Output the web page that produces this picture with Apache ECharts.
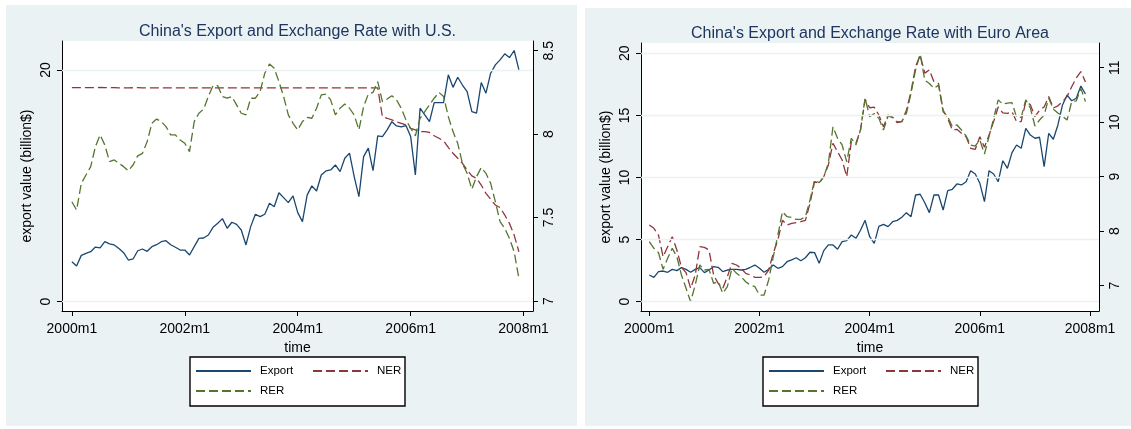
<!DOCTYPE html>
<html>
<head>
<meta charset="utf-8">
<script src="https://cdn.jsdelivr.net/npm/echarts@6/dist/echarts.min.js"></script>
<style>
  html, body { margin: 0; padding: 0; background: #ffffff; }
  #chart { width: 1131px; height: 429px; }
</style>
</head>
<body>
<div id="chart"></div>
<script>
// Monthly observations, 2000m1 .. 2007m12
const months = [];
for (let y = 2000; y < 2008; y++) for (let m = 1; m <= 12; m++) months.push(y + 'm' + m);

const xTickMonths = [0, 24, 48, 72, 96];
const xTickLabels = ['2000m1', '2002m1', '2004m1', '2006m1', '2008m1'];

// China – U.S.
const usExport = [
  3.45, 3.08, 4.00, 4.18, 4.32, 4.72, 4.64, 5.18, 5.00, 4.90, 4.60, 4.23,
  3.60, 3.69, 4.40, 4.55, 4.35, 4.75, 4.92, 5.18, 5.27, 4.92, 4.70, 4.46,
  4.46, 4.03, 4.75, 5.47, 5.50, 5.76, 6.42, 6.77, 7.17, 6.34, 6.86, 6.68,
  6.19, 4.90, 6.48, 7.55, 7.34, 7.55, 8.50, 8.20, 9.41, 8.98, 8.55, 9.13,
  7.69, 6.91, 9.20, 10.00, 9.56, 10.94, 11.29, 11.37, 11.80, 11.23, 12.38, 12.82,
  10.80, 9.07, 12.52, 13.25, 11.31, 14.31, 14.25, 14.83, 15.54, 15.17, 15.09, 15.20,
  14.25, 10.94, 16.70, 16.12, 15.54, 17.18, 17.18, 17.18, 19.58, 18.50, 19.37, 18.70,
  18.13, 16.40, 16.27, 18.91, 18.00, 19.72, 20.44, 20.87, 21.39, 21.07, 21.68, 20.00
];
const usNER = [
  8.279, 8.279, 8.279, 8.279, 8.278, 8.278, 8.280, 8.279, 8.278, 8.278, 8.277, 8.277,
  8.277, 8.278, 8.278, 8.277, 8.277, 8.277, 8.277, 8.277, 8.277, 8.277, 8.277, 8.277,
  8.277, 8.277, 8.277, 8.277, 8.277, 8.277, 8.277, 8.277, 8.277, 8.277, 8.277, 8.277,
  8.277, 8.277, 8.277, 8.277, 8.277, 8.277, 8.277, 8.277, 8.277, 8.277, 8.277, 8.277,
  8.277, 8.277, 8.277, 8.277, 8.277, 8.277, 8.277, 8.277, 8.277, 8.277, 8.277, 8.277,
  8.277, 8.277, 8.277, 8.277, 8.277, 8.277, 8.104, 8.095, 8.085, 8.074, 8.065, 8.055,
  8.035, 8.025, 8.015, 8.015, 8.010, 7.990, 7.975, 7.960, 7.920, 7.885, 7.855, 7.825,
  7.785, 7.750, 7.735, 7.695, 7.645, 7.610, 7.575, 7.560, 7.515, 7.465, 7.395, 7.295
];
const usRER = [
  7.595, 7.545, 7.705, 7.755, 7.805, 7.925, 7.995, 7.935, 7.835, 7.845, 7.825, 7.805,
  7.780, 7.815, 7.870, 7.885, 7.955, 8.065, 8.090, 8.075, 8.045, 7.995, 7.995, 7.965,
  7.945, 7.895, 8.075, 8.125, 8.150, 8.225, 8.290, 8.290, 8.225, 8.215, 8.225, 8.175,
  8.125, 8.115, 8.215, 8.215, 8.255, 8.365, 8.420, 8.395, 8.315, 8.225, 8.115, 8.065,
  8.025, 8.075, 8.100, 8.095, 8.155, 8.235, 8.240, 8.205, 8.115, 8.155, 8.180, 8.155,
  8.115, 8.025, 8.165, 8.240, 8.250, 8.315, 8.195, 8.210, 8.230, 8.205, 8.155, 8.085,
  8.035, 7.990, 8.095, 8.135, 8.175, 8.215, 8.250, 8.225, 8.105, 8.015, 7.945, 7.825,
  7.765, 7.670, 7.745, 7.800, 7.765, 7.705, 7.595, 7.475, 7.435, 7.375, 7.295, 7.135
];

// China – Euro Area
const euExport = [
  2.15, 1.96, 2.42, 2.47, 2.37, 2.60, 2.50, 2.74, 2.60, 2.37, 2.60, 2.74,
  2.34, 2.55, 2.82, 2.77, 2.42, 2.55, 2.60, 2.60, 2.55, 2.60, 2.77, 2.95,
  2.69, 2.37, 2.60, 2.95, 2.69, 2.82, 3.22, 3.36, 3.54, 3.30, 3.54, 3.98,
  3.95, 3.09, 4.11, 4.57, 4.57, 4.22, 4.83, 4.91, 5.37, 5.10, 5.75, 6.55,
  5.23, 4.70, 6.07, 6.23, 6.04, 6.44, 6.55, 6.80, 7.17, 6.84, 8.59, 8.65,
  7.97, 7.17, 8.59, 8.59, 7.38, 8.94, 9.05, 9.48, 9.40, 9.66, 10.55, 10.28,
  9.53, 8.05, 10.55, 10.28, 9.66, 11.35, 10.74, 12.00, 12.62, 12.35, 13.96, 13.42,
  13.16, 13.24, 10.87, 13.56, 13.08, 14.23, 15.84, 16.64, 16.18, 16.38, 17.37, 16.72
];
const euNER = [
  8.114, 8.053, 7.930, 7.532, 7.716, 7.900, 7.655, 7.338, 7.240, 6.952, 7.196, 7.716,
  7.704, 7.655, 7.196, 7.044, 6.952, 7.165, 7.411, 7.380, 7.319, 7.227, 7.196, 7.153,
  7.153, 7.165, 7.288, 7.594, 7.838, 8.200, 8.114, 8.145, 8.156, 8.175, 8.200, 8.510,
  8.908, 8.879, 9.000, 9.215, 9.613, 9.459, 9.306, 9.000, 9.642, 9.613, 9.857, 10.420,
  10.265, 10.275, 10.132, 9.917, 10.130, 10.090, 9.990, 10.010, 10.220, 10.560, 11.020, 11.230,
  10.900, 10.960, 10.740, 10.710, 10.220, 10.070, 9.857, 9.870, 9.796, 9.734, 9.521, 9.503,
  9.734, 9.539, 9.765, 10.010, 10.280, 10.170, 10.160, 10.190, 10.010, 10.010, 10.380, 10.320,
  10.100, 10.220, 10.280, 10.470, 10.260, 10.300, 10.380, 10.470, 10.650, 10.810, 10.930, 10.740
];
const euRER = [
  7.807, 7.686, 7.606, 7.300, 7.503, 7.686, 7.532, 7.196, 6.952, 6.706, 7.013, 7.380,
  7.288, 7.300, 7.044, 7.073, 6.861, 6.982, 7.319, 7.227, 7.165, 7.073, 7.013, 6.982,
  6.829, 6.829, 7.105, 7.532, 7.930, 8.358, 8.266, 8.254, 8.218, 8.218, 8.266, 8.573,
  8.940, 8.890, 9.000, 9.246, 9.917, 9.704, 9.582, 9.275, 9.704, 9.582, 9.857, 10.440,
  10.100, 10.160, 10.070, 9.857, 10.110, 10.090, 10.010, 10.010, 10.160, 10.530, 10.960, 11.250,
  10.770, 10.710, 10.620, 10.680, 10.190, 10.100, 9.917, 9.949, 9.857, 9.747, 9.582, 9.563,
  9.673, 9.417, 9.734, 10.070, 10.410, 10.330, 10.350, 10.360, 10.090, 10.090, 10.410, 10.260,
  9.930, 10.040, 10.130, 10.440, 10.240, 10.170, 10.110, 10.040, 10.380, 10.390, 10.620, 10.380
];

const usLeftTicks = [0, 20];
const usRightTicks = [7, 7.5, 8, 8.5];
const euLeftTicks = [0, 5, 10, 15, 20];
const euRightTicks = [7, 8, 9, 10, 11];

const FONT = '"Liberation Sans", Arial, Helvetica, sans-serif';
const C_EXPORT = '#1a476f';
const C_NER = '#90353b';
const C_RER = '#55752f';
const PANEL_BG = '#eaf2f3';
const DASH = [9, 4];

const chart = echarts.init(document.getElementById('chart'), null, { renderer: 'canvas' });

const pairs = arr => arr.map((v, i) => [i, v]);

function xAxisFor(gridIndex, min, max) {
  return {
    type: 'value', gridIndex, min, max,
    axisLine: { show: true, onZero: false, lineStyle: { color: '#000', width: 1 } },
    axisTick: { show: true, customValues: xTickMonths, length: 5, lineStyle: { color: '#000', width: 1 } },
    axisLabel: {
      customValues: xTickMonths,
      formatter: v => xTickLabels[xTickMonths.indexOf(v)],
      fontSize: 14, color: '#000', fontFamily: FONT, margin: 11
    },
    splitLine: { show: false },
    name: 'time', nameLocation: 'middle', nameGap: 30,
    nameTextStyle: { fontSize: 14, color: '#000', fontFamily: FONT }
  };
}

function yAxisFor(gridIndex, position, min, max, ticks, name) {
  const ax = {
    type: 'value', gridIndex, position, min, max,
    axisLine: { show: true, onZero: false, lineStyle: { color: '#000', width: 1 } },
    axisTick: { show: true, customValues: ticks, length: 5, lineStyle: { color: '#000', width: 1 } },
    axisLabel: {
      customValues: ticks, rotate: 90,
      fontSize: 14, color: '#000', fontFamily: FONT, margin: 9
    },
    splitLine: { show: false }
  };
  if (name) {
    ax.name = name;
    ax.nameLocation = 'middle';
    ax.nameGap = 28;
    ax.nameTextStyle = { fontSize: 14, color: '#000', fontFamily: FONT };
  }
  return ax;
}

function gridLines(xi, yi, ticks) {
  return {
    name: 'gridlines', type: 'line', xAxisIndex: xi, yAxisIndex: yi, data: [], z: 1,
    silent: true,
    markLine: {
      silent: true, symbol: 'none', animation: false,
      label: { show: false },
      lineStyle: { color: PANEL_BG, width: 1.3, type: 'solid' },
      data: ticks.map(v => ({ yAxis: v }))
    }
  };
}

function lineSeries(name, data, xi, yi, color, dashed) {
  return {
    name, type: 'line', xAxisIndex: xi, yAxisIndex: yi,
    data: pairs(data), symbol: 'none', z: 3,
    lineStyle: { color, width: 1.3, type: dashed ? DASH : 'solid' },
    itemStyle: { color }
  };
}

// legend keys show the line sample only, no marker
function legendItem(name, left, top) {
  return {
    data: [name], left, top, padding: 0,
    itemWidth: 55, itemHeight: 14, selectedMode: false,
    itemStyle: { opacity: 0 },
    textStyle: { fontSize: 11.5, color: '#000', fontFamily: FONT, padding: [0, 0, 0, 4] }
  };
}

const option = {
  animation: false,
  backgroundColor: '#ffffff',
  title: [
    { text: "China's Export and Exchange Rate with U.S.", left: 297.5, top: 24, textAlign: 'center', padding: 0,
      textStyle: { fontSize: 16, fontWeight: 'normal', color: '#1e3560', fontFamily: FONT } },
    { text: "China's Export and Exchange Rate with Euro Area", left: 870, top: 26, textAlign: 'center', padding: 0,
      textStyle: { fontSize: 16, fontWeight: 'normal', color: '#1e3560', fontFamily: FONT } }
  ],
  graphic: [
    { type: 'rect', z: -10, shape: { x: 6, y: 5, width: 571, height: 421 }, style: { fill: PANEL_BG } },
    { type: 'rect', z: -10, shape: { x: 585, y: 8, width: 546, height: 418 }, style: { fill: PANEL_BG } },
    { type: 'rect', z: 0, shape: { x: 190, y: 357, width: 215, height: 49 }, style: { fill: '#fff', stroke: '#000', lineWidth: 1.4 } },
    { type: 'rect', z: 0, shape: { x: 763, y: 357, width: 215, height: 49 }, style: { fill: '#fff', stroke: '#000', lineWidth: 1.4 } }
  ],
  legend: [
    legendItem('Export', 195, 365),
    legendItem('NER', 312, 365),
    legendItem('RER', 195, 385),
    legendItem('Export', 768, 365),
    legendItem('NER', 885, 365),
    legendItem('RER', 768, 385)
  ],
  grid: [
    { left: 62, top: 41, width: 471, height: 270, show: true, backgroundColor: '#ffffff', borderWidth: 0 },
    { left: 641, top: 43, width: 458, height: 268, show: true, backgroundColor: '#ffffff', borderWidth: 0 }
  ],
  xAxis: [
    xAxisFor(0, -2.1, 98),
    xAxisFor(1, -1.81, 97.95)
  ],
  yAxis: [
    yAxisFor(0, 'left', -0.8, 22.5, usLeftTicks, 'export value (billion$)'),
    yAxisFor(0, 'right', 6.94, 8.558, usRightTicks),
    yAxisFor(1, 'left', -0.75, 20.83, euLeftTicks, 'export value (billion$)'),
    yAxisFor(1, 'right', 6.536, 11.453, euRightTicks)
  ],
  series: [
    gridLines(0, 0, usLeftTicks),
    lineSeries('Export', usExport, 0, 0, C_EXPORT, false),
    lineSeries('NER', usNER, 0, 1, C_NER, true),
    lineSeries('RER', usRER, 0, 1, C_RER, true),
    gridLines(1, 2, euLeftTicks),
    lineSeries('Export', euExport, 1, 2, C_EXPORT, false),
    lineSeries('NER', euNER, 1, 3, C_NER, true),
    lineSeries('RER', euRER, 1, 3, C_RER, true)
  ]
};

chart.setOption(option);
</script>
</body>
</html>
